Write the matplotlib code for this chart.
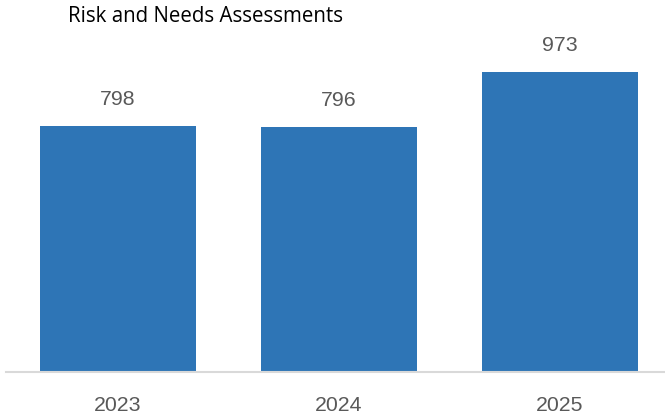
import matplotlib.pyplot as plt

years = ["2023", "2024", "2025"]
counts = [798, 796, 973]

bar_color = "#2E75B6"
text_color = "#595959"

fig = plt.figure(figsize=(6.65, 4.19), dpi=100)
ax = fig.add_axes([6 / 665, 47 / 419, 659 / 665, 372 / 419])

x = range(len(years))
bars = ax.bar(x, counts, width=0.706, color=bar_color, zorder=2)

ax.set_xlim(-0.507, 2.475)
ax.set_ylim(0, 372 / 0.3083)

for spine in ["top", "right", "left"]:
    ax.spines[spine].set_visible(False)
ax.spines["bottom"].set_color("#D9D9D9")
ax.spines["bottom"].set_linewidth(1.5)
ax.set_yticks([])
ax.set_xticks(list(x))
ax.set_xticklabels(years, fontsize=15.3, color=text_color, family="Liberation Sans")
ax.tick_params(axis="x", length=0, pad=17)

for rect, val in zip(bars, counts):
    ax.annotate(str(val), (rect.get_x() + rect.get_width() / 2, rect.get_height()),
                xytext=(0, 19), textcoords="offset points", ha="center", va="center",
                fontsize=15.3, color=text_color, family="Liberation Sans")

fig.text(68 / 665, 1 - 16 / 419, "Risk and Needs Assessments", fontsize=14.8,
         family="Open Sans", color="black", va="center", ha="left")

fig.savefig("out.png", dpi=100)
